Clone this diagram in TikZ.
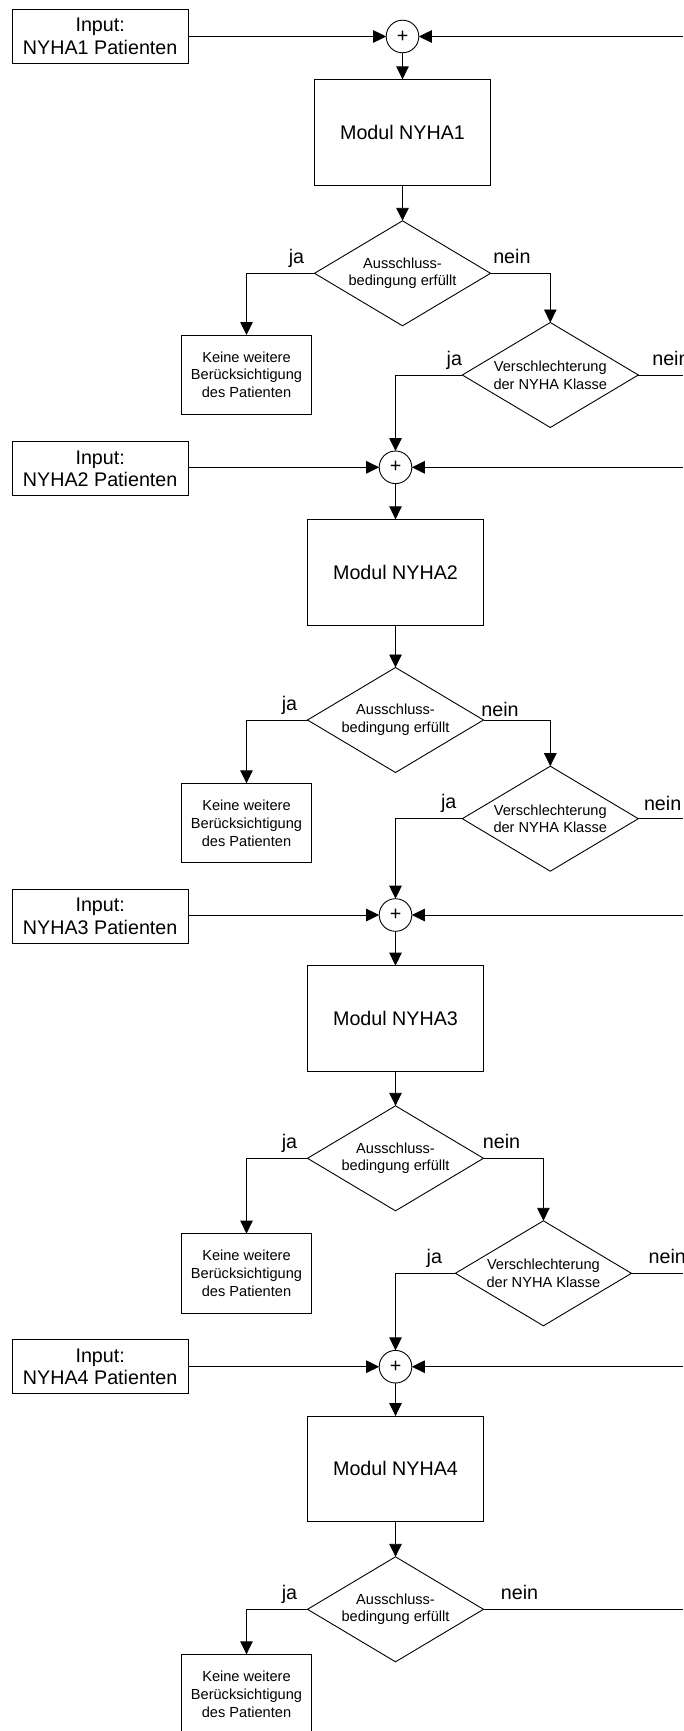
\documentclass[tikz,border=0pt]{standalone}
\usepackage{fontspec}
\setmainfont{Liberation Sans}
\usetikzlibrary{arrows.meta,shapes.geometric,calc}
\begin{document}
\begin{tikzpicture}[x=1pt,y=-1pt,
  line width=0.9pt,
  every node/.style={inner sep=0pt, outer sep=0pt},
  big/.style={font=\fontsize{19.7}{22.5}\selectfont},
  small/.style={font=\fontsize{14.6}{17.8}\selectfont},
  inbox/.style={draw, rectangle, minimum width=176, minimum height=54, big, align=center},
  modbox/.style={draw, rectangle, minimum width=176, minimum height=105.7, big},
  kbox/.style={draw, rectangle, minimum width=130, minimum height=79.4, small, align=center},
  sumc/.style={draw, circle, minimum size=32.6, big},
  dia/.style={draw, diamond, minimum width=176, minimum height=105},
  dtext/.style={small, align=center},
  lab/.style={big, anchor=base},
  labw/.style={big, anchor=base west},
  arr/.style={-{Triangle[length=13pt,width=12.5pt]}},
]
\useasboundingbox (0,0) rectangle (683,1731);

% ---------- Row 1 ----------
\node[inbox] (in1) at (100.2,36.3) {Input:\\NYHA1 Patienten};
\node[sumc] (s1) at (402.5,36.5) {+};
\coordinate (r1) at (683,36.5);
\node[modbox] (m1) at (402.5,132.2) {Modul NYHA1};
\node[dia, label={[dtext]center:Ausschluss-\\bedingung erfüllt}] (a1) at (402.5,273.3) {};
\node[kbox] (k1) at (246.5,374.7) {Keine weitere\\Berücksichtigung\\des Patienten};
\node[dia, label={[dtext]center:Verschlechterung\\der NYHA Klasse}] (b1) at (550.3,375) {};
\coordinate (rb1) at (683,375);

\node[lab] (ja1) at ($(a1.west)+(-18,-10)$) {ja};
\node[lab] (nein1) at ($(a1.east)+(21.4,-10)$) {nein};
\node[lab] (jb1) at ($(b1.west)+(-8,-10)$) {ja};
\node[labw] (nb1) at ($(b1.east)+(14,-10)$) {nein};

% ---------- Row 2 ----------
\node[inbox] (in2) at (100.2,468.7) {Input:\\NYHA2 Patienten};
\node[sumc] (s2) at (395.5,467.3) {+};
\coordinate (r2) at (683,467.3);
\node[modbox] (m2) at (395.5,572.2) {Modul NYHA2};
\node[dia, label={[dtext]center:Ausschluss-\\bedingung erfüllt}] (a2) at (395.5,720) {};
\node[kbox] (k2) at (246.5,823) {Keine weitere\\Berücksichtigung\\des Patienten};
\node[dia, label={[dtext]center:Verschlechterung\\der NYHA Klasse}] (b2) at (550.3,818.7) {};
\coordinate (rb2) at (683,818.7);

\node[lab] (ja2) at ($(a2.west)+(-18,-10)$) {ja};
\node[lab] (nein2) at ($(a2.east)+(16.5,-3.5)$) {nein};
\node[lab] (jb2) at ($(b2.west)+(-13.6,-10)$) {ja};
\node[labw] (nb2) at ($(b2.east)+(5.7,-8.5)$) {nein};

% ---------- Row 3 ----------
\node[inbox] (in3) at (100.2,916.2) {Input:\\NYHA3 Patienten};
\node[sumc] (s3) at (395.5,915) {+};
\coordinate (r3) at (683,915);
\node[modbox] (m3) at (395.5,1018.5) {Modul NYHA3};
\node[dia, label={[dtext]center:Ausschluss-\\bedingung erfüllt}] (a3) at (395.5,1158.3) {};
\node[kbox] (k3) at (246.5,1273.3) {Keine weitere\\Berücksichtigung\\des Patienten};
\node[dia, label={[dtext]center:Verschlechterung\\der NYHA Klasse}] (b3) at (543.4,1273.3) {};
\coordinate (rb3) at (683,1273.3);

\node[lab] (ja3) at ($(a3.west)+(-18,-10)$) {ja};
\node[lab] (nein3) at ($(a3.east)+(18,-10)$) {nein};
\node[lab] (jb3) at ($(b3.west)+(-21,-10)$) {ja};
\node[labw] (nb3) at ($(b3.east)+(17.3,-10)$) {nein};

% ---------- Row 4 ----------
\node[inbox] (in4) at (100.2,1366.7) {Input:\\NYHA4 Patienten};
\node[sumc] (s4) at (395.5,1366.7) {+};
\coordinate (r4) at (683,1366.7);
\node[modbox] (m4) at (395.5,1468.9) {Modul NYHA4};
\node[dia, label={[dtext]center:Ausschluss-\\bedingung erfüllt}] (a4) at (395.5,1609.3) {};
\node[kbox] (k4) at (246.5,1694) {Keine weitere\\Berücksichtigung\\des Patienten};
\coordinate (ra4) at (683,1609.3);

\node[lab] (ja4) at ($(a4.west)+(-18,-10)$) {ja};
\node[lab] (nein4) at ($(a4.east)+(36,-10)$) {nein};

% ---------- Connectors ----------
\foreach \i in {1,2,3,4}{
  \draw[arr] (in\i.east |- s\i.west) -- (s\i.west);
  \draw[arr] (r\i) -- (s\i.east);
  \draw[arr] (s\i.south) -- (m\i.north);
  \draw[arr] (m\i.south) -- (a\i.north);
  \draw[arr] (a\i.west) -| (k\i.north);
}
\foreach \i in {1,2,3}{
  \draw[arr] (a\i.east) -| (b\i.north);
  \draw (b\i.east) -- (rb\i);
}
\draw[arr] (b1.west) -| (s2.north);
\draw[arr] (b2.west) -| (s3.north);
\draw[arr] (b3.west) -| (s4.north);
\draw (a4.east) -- (ra4);
\end{tikzpicture}
\end{document}
